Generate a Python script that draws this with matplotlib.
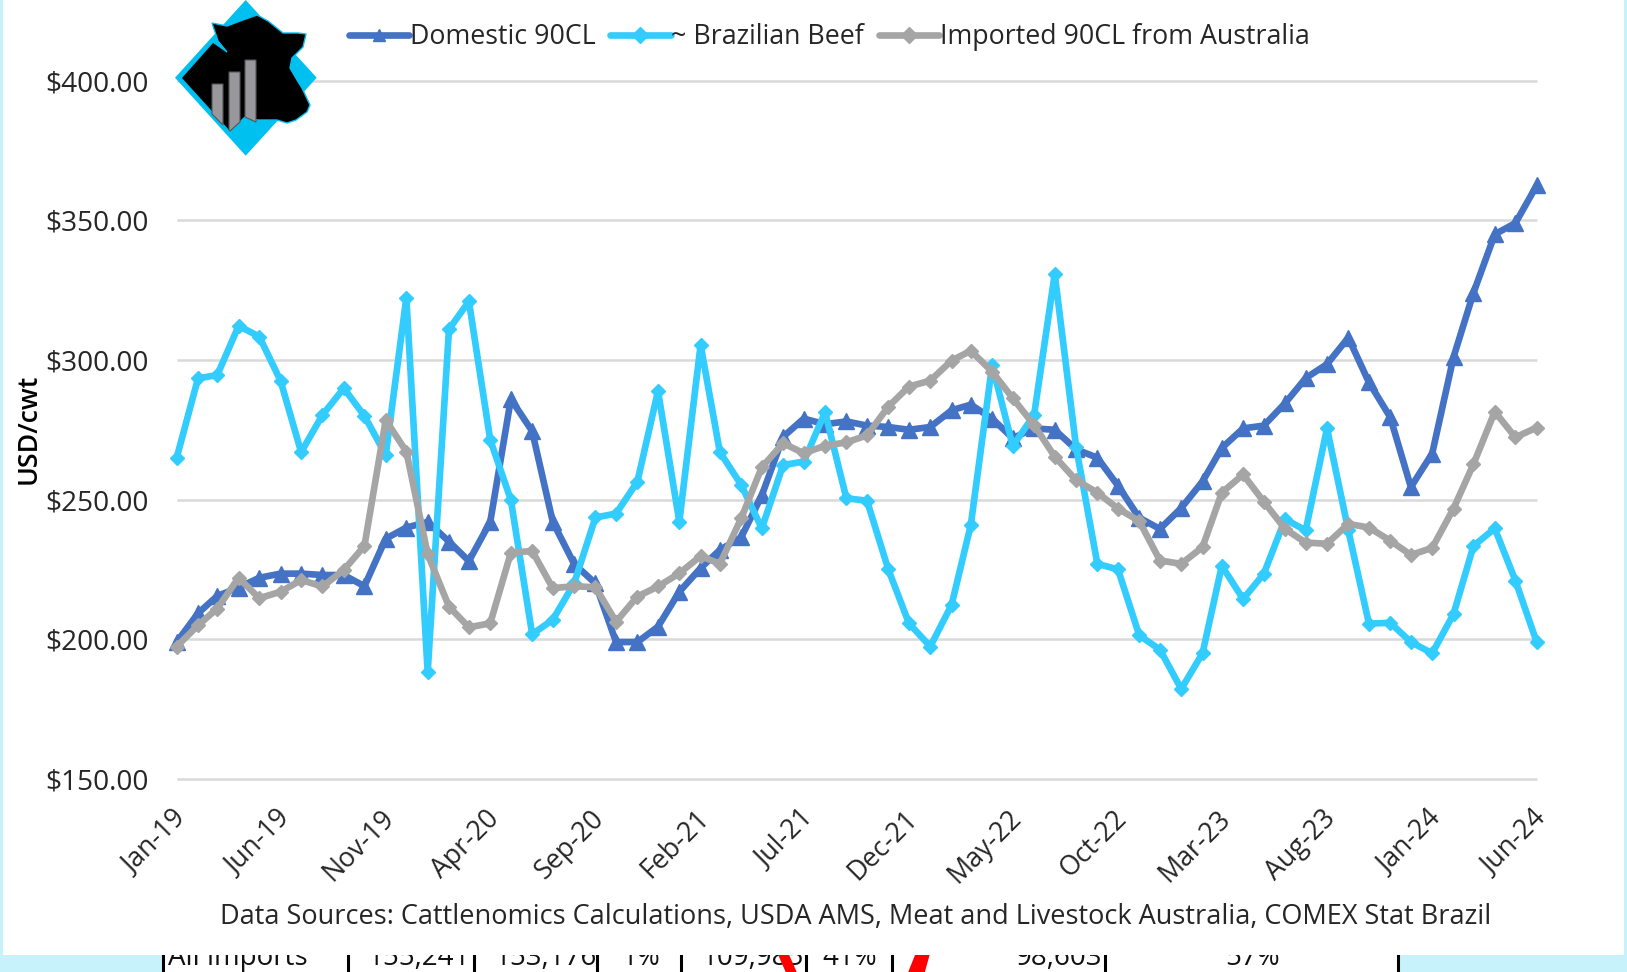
import numpy as np
import pandas as pd
import matplotlib
matplotlib.use("Agg")
import matplotlib.pyplot as plt
from matplotlib.patches import Polygon, Rectangle
from matplotlib.transforms import ScaledTranslation

W, H = 1627, 972
FONT = "Open Sans"
plt.rcParams["font.family"] = [FONT, "DejaVu Sans"]

# monthly values, Jan-19 to Jun-24
months = pd.date_range("2019-01-01", "2024-06-01", freq="MS")

domestic = [199, 209.3, 215.5, 218.5, 222, 223.5, 223.5, 223, 223, 219, 236, 240, 242, 235, 228, 242,
            286, 274.5, 242, 227, 220, 199, 199, 204.5, 217, 225.5, 232, 236.5, 251.5, 272.5, 279, 277,
            278, 276.5, 276, 275, 276, 282, 284, 279, 272, 275.5, 275, 268, 265, 255, 243.5, 239.5,
            247, 256.5, 268.5, 275.5, 276.5, 284.5, 293.5, 298.5, 308, 292, 279.5, 254.5, 266.5, 301,
            324, 345, 349, 362.5]
brazilian = [265, 293.4, 294.6, 312.2, 308.4, 292.6, 267, 280.3, 289.9, 280, 266, 322.3, 188.2, 311,
             321, 271.4, 249.9, 201.8, 207, 220, 243.6, 245, 256.4, 288.9, 242.1, 305.4, 267, 255.3,
             239.7, 262.4, 263.6, 281.3, 250.5, 249.6, 225, 205.7, 197.4, 212.3, 241, 298.2, 269.2,
             280.3, 330.8, 269, 227, 225, 201.4, 196.3, 182.2, 195, 226.3, 214.4, 223.4, 243, 239,
             275.5, 239, 205.6, 205.9, 199, 195, 209, 233.4, 239.7, 221, 199]
imported = [197.4, 205, 211, 222, 214.7, 217, 221.2, 218.9, 224.8, 233.4, 278.5, 267.2, 230.5, 211.7,
            204.3, 205.7, 231, 231.6, 218.3, 219, 218.6, 206.3, 215.3, 218.9, 223.6, 229.8, 227, 243.3,
            261.6, 270.2, 266.6, 269.3, 270.5, 273, 283.3, 290.5, 292.6, 299.8, 303.3, 295.8, 286.3,
            276.7, 265.4, 257, 252.5, 246.8, 242.3, 228.2, 227, 233, 252.5, 259, 249.3, 239.5, 234.6,
            234.2, 241.3, 240, 235.3, 230.2, 232.7, 246.8, 262.7, 281.5, 272.3, 275.8]

y_ticks = [150, 200, 250, 300, 350, 400]

# table row cut off under the chart panel
row_labels = ["All imports", "155,241", "153,176", "1%", "109,985", "41%", "98,603", "57%"]
row_x = [168, 419, 546, 641, 753, 850, 1059, 1253]
row_ha = ["left", "center", "center", "center", "center", "center", "center", "center"]
row_lines = [163, 348.5, 474, 597.5, 681.5, 806.5, 892, 1105, 1398.5]

fig = plt.figure(figsize=(W / 100, H / 100), dpi=100, facecolor="#C8F2FB")

# pixel layer for the background panels
bg = fig.add_axes([0, 0, 1, 1], zorder=0)
bg.set_xlim(0, W)
bg.set_ylim(H, 0)
bg.axis("off")
bg.add_patch(Rectangle((163, 950), 1236, 30, fc="white", ec="none", zorder=1))
for xl in row_lines:
    bg.plot([xl, xl], [950, 975], color="black", lw=2.2, zorder=2, solid_capstyle="butt")
for label, xl, ha in zip(row_labels, row_x, row_ha):
    bg.text(xl, 965, label, fontsize=20, ha=ha, va="baseline", color="#111111", zorder=2)
bg.add_patch(Polygon([(776, 950), (787, 950), (798, 975), (787, 975)], fc="#FF0000", ec="none", zorder=3))
bg.add_patch(Polygon([(917, 950), (931, 950), (924, 975), (907, 975)], fc="#FF0000", ec="none", zorder=3))
bg.add_patch(Rectangle((3, -5), 1621, 960, fc="white", ec="none", zorder=4))

# chart
left, right = 176.7, 1536.7
top, bottom = 80.7, 778.9
ax = fig.add_axes([left / W, 1 - bottom / H, (right - left) / W, (bottom - top) / H], zorder=1)
ax.patch.set_alpha(0)

ax.plot(months, domestic, color="#4472C4", lw=4.8, marker="^", ms=11, label="Domestic 90CL",
        clip_on=False, solid_joinstyle="round", solid_capstyle="round")
ax.plot(months, brazilian, color="#33CCFF", lw=4.8, marker="D", ms=7, label="~ Brazilian Beef",
        clip_on=False, solid_joinstyle="round", solid_capstyle="round")
ax.plot(months, imported, color="#A5A5A5", lw=4.8, marker="D", ms=7, label="Imported 90CL from Australia",
        clip_on=False, solid_joinstyle="round", solid_capstyle="round")

ax.set_xlim(months[0], months[-1])
ax.set_ylim(150, 400)
ax.set_yticks(y_ticks)
ax.set_yticklabels([f"${v:.2f}" for v in y_ticks])
ax.set_xticks(months[::5])
ax.set_xticklabels([d.strftime("%b-%y") for d in months[::5]], rotation=45, ha="right", va="top",
                   rotation_mode="anchor")
ax.tick_params(axis="y", length=0, pad=20, labelsize=20.2, labelcolor="#262626")
ax.tick_params(axis="x", length=0, pad=18.5, labelsize=19.3, labelcolor="#262626")
shift = ScaledTranslation(-5 / 100, 0, fig.dpi_scale_trans)
for lab in ax.get_xticklabels():
    lab.set_transform(lab.get_transform() + shift)
ax.grid(axis="y", color="#D9D9D9", lw=1.8, clip_on=False, solid_capstyle="butt")
ax.set_axisbelow(True)
for s in ax.spines.values():
    s.set_visible(False)

fig.text(29 / W, 1 - 429 / H, "USD/cwt", rotation=90, ha="center", va="center", fontsize=19.3,
         fontweight="semibold", color="black")

leg = ax.legend(loc="center left", bbox_to_anchor=(349 / W, 1 - 37 / H), bbox_transform=fig.transFigure,
                ncol=3, frameon=False, fontsize=19.3, handlelength=2.25, handletextpad=0.02, columnspacing=0.55,
                borderpad=0, borderaxespad=0, labelcolor="#262626")
for line in leg.get_lines():
    line.set_markersize(8)

fig.text(856 / W, 1 - 917 / H, "Data Sources: Cattlenomics Calculations, USDA AMS, Meat and Livestock Australia, COMEX Stat Brazil",
         ha="center", va="center", fontsize=19.55, color="#262626")

# logo, sits over the top gridline
logo = fig.add_axes([0, 0, 1, 1], zorder=2)
logo.set_xlim(0, W)
logo.set_ylim(H, 0)
logo.axis("off")
logo.add_patch(Polygon([(245.7, 0), (316.7, 77.7), (245.7, 155.7), (175, 77.7)], fc="#00C0F0", ec="none"))
cow = [(212, 23), (227, 26), (240, 21), (257, 15), (268, 21), (283, 33), (298, 33), (306, 34), (303, 47),
       (292, 58), (290, 68), (297, 80), (302, 88), (310, 105), (307, 112), (296, 120), (287, 123), (277, 120),
       (258, 120), (245, 117), (230, 132), (181, 78), (213, 42), (227, 52), (218, 41)]
logo.add_patch(Polygon(cow, fc="black", ec="#00C0F0", lw=1))
logo.add_patch(Polygon([(212, 84), (223, 84), (223, 125), (212, 114)], fc="#98989C", ec="#555555", lw=0.8))
logo.add_patch(Polygon([(229, 72), (240, 72), (240, 122), (230, 131), (229, 130)], fc="#98989C", ec="#555555", lw=0.8))
logo.add_patch(Polygon([(245, 60), (256, 60), (256, 122), (245, 117)], fc="#98989C", ec="#555555", lw=0.8))

plt.savefig("out.png", dpi=100, facecolor=fig.get_facecolor())
